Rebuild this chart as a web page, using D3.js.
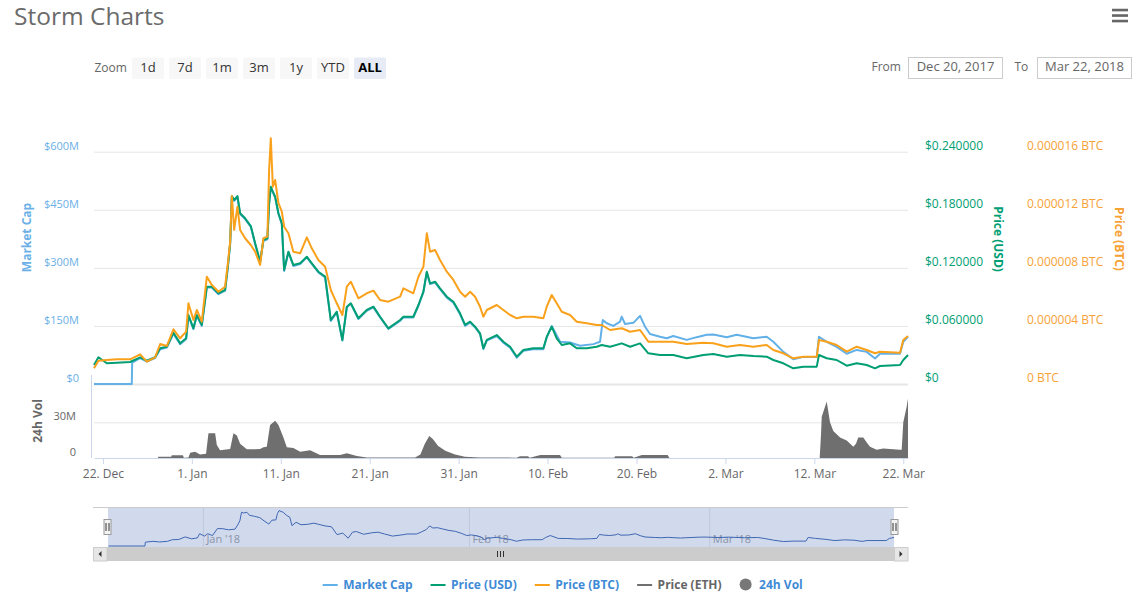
<!DOCTYPE html>
<html>
<head>
<meta charset="utf-8">
<title>Storm Charts</title>
<script src="https://cdn.jsdelivr.net/npm/d3@7"></script>
<style>
  body { margin: 0; background: #fff; }
  svg { display: block; font-family: "Open Sans", sans-serif; }
</style>
</head>
<body>
<svg id="chart" width="1143" height="599"></svg>
<script>
// ---- data: day offsets counted from Dec 21, 2017 00:00 ----
const priceUSD = [
  [0,0.0196],[0.5,0.0276],[1.44,0.0214],[2.57,0.0220],[4.06,0.0227],[5.19,0.0276],[5.94,0.0241],[6.87,0.0276],[7.44,0.0369],[8.19,0.0385],
  [8.93,0.0530],[9.69,0.0420],[10.36,0.0472],[10.62,0.0713],[11.18,0.0575],[11.56,0.0713],[12.12,0.0610],[12.69,0.1005],[13.25,0.1005],[13.99,0.0937],
  [14.74,0.0971],[15.05,0.1212],[15.31,0.1454],[15.50,0.1942],[15.76,0.1901],[16.13,0.1942],[16.43,0.1764],[16.99,0.1712],[17.63,0.1632],[18.12,0.1454],
  [18.68,0.1264],[19.05,0.1488],[19.50,0.1505],[19.69,0.1867],[19.88,0.2038],[20.11,0.1987],[20.37,0.1935],[20.74,0.1764],[21.12,0.1660],[21.38,0.1178],
  [21.86,0.1367],[22.42,0.1229],[23.18,0.1247],[23.93,0.1315],[24.49,0.1247],[25.23,0.1160],[25.99,0.1109],[26.63,0.0661],[27.30,0.0747],[27.93,0.0455],
  [28.43,0.0799],[28.88,0.0834],[29.73,0.0679],[30.67,0.0765],[31.42,0.0799],[32.17,0.0695],[33.10,0.0575],[34.42,0.0661],[34.79,0.0695],[35.91,0.0695],
  [36.48,0.0816],[37.04,0.0954],[37.42,0.1160],[37.79,0.1040],[38.35,0.1057],[38.91,0.0989],[39.67,0.0902],[40.41,0.0850],[41.16,0.0730],[41.73,0.0610],
  [42.29,0.0644],[42.85,0.0592],[43.41,0.0524],[43.78,0.0369],[44.17,0.0455],[45.29,0.0506],[46.03,0.0437],[46.79,0.0385],[47.54,0.0282],[48.28,0.0351],
  [49.40,0.0369],[50.53,0.0369],[50.91,0.0489],[51.47,0.0592],[52.03,0.0472],[52.60,0.0403],[53.53,0.0420],[54.28,0.0369],[55.41,0.0369],[56.53,0.0385],
  [57.09,0.0403],[58.03,0.0385],[59.34,0.0420],[60.28,0.0385],[61.40,0.0420],[62.33,0.0317],[63.65,0.0300],[65.14,0.0300],[66.65,0.0266],[68.52,0.0300],
  [69.64,0.0310],[71.15,0.0282],[72.64,0.0300],[74.14,0.0289],[75.64,0.0282],[76.39,0.0248],[77.51,0.0214],[78.63,0.0162],[79.76,0.0179],[81.27,0.0179],
  [81.52,0.0300],[82.39,0.0266],[83.51,0.0248],[84.64,0.0189],[85.76,0.0214],[86.89,0.0196],[87.82,0.0162],[88.38,0.0186],[90.63,0.0196],[91.00,0.0248],
  [91.53,0.0300]
];

// Price in BTC, in millionths of a bitcoin
const priceBTCmicro = [
  [0,1.081],[0.5,1.605],[1.44,1.653],[2.57,1.701],[4.06,1.701],[5.19,2.046],[5.94,1.536],[6.87,1.839],[7.44,2.755],[8.19,2.617],
  [8.93,3.768],[9.69,3.148],[10.36,3.602],[10.62,5.559],[11.18,4.408],[11.56,5.097],[12.12,4.291],[12.69,7.391],[13.25,6.819],[13.99,6.358],
  [14.74,6.702],[15.05,8.314],[15.31,9.802],[15.50,12.95],[15.76,10.61],[16.13,12.21],[16.43,10.61],[16.99,10.04],[17.63,9.574],[18.12,9.113],
  [18.68,8.197],[19.05,10.04],[19.50,10.15],[19.69,14.74],[19.88,16.92],[20.11,13.59],[20.37,14.05],[20.74,12.45],[21.12,11.87],[21.38,10.83],
  [21.86,10.38],[22.42,9.113],[23.18,9.003],[23.93,10.10],[24.49,9.347],[25.23,8.541],[25.99,8.080],[26.63,6.475],[27.30,5.559],[27.93,4.753],
  [28.43,6.702],[28.88,7.047],[29.73,5.903],[30.67,6.247],[31.42,6.427],[32.17,5.786],[33.10,5.669],[34.42,6.013],[34.79,6.592],[35.91,6.247],
  [36.48,7.391],[37.04,8.080],[37.42,10.38],[37.79,9.113],[38.35,9.230],[38.91,8.541],[39.67,7.735],[40.41,7.164],[41.16,6.358],[41.73,6.013],
  [42.29,6.358],[42.85,6.013],[43.41,5.324],[43.78,4.636],[44.17,5.097],[45.29,5.442],[46.03,5.097],[46.79,4.753],[47.54,4.525],[48.28,4.636],
  [49.40,4.636],[50.53,4.525],[50.91,5.324],[51.47,6.130],[52.03,5.559],[52.60,4.980],[53.53,4.753],[54.28,4.291],[55.41,4.181],[56.53,4.064],
  [57.09,4.064],[58.03,3.720],[59.34,3.837],[60.28,3.602],[61.40,3.720],[62.33,2.914],[63.65,2.914],[65.14,2.914],[66.65,2.755],[68.52,2.845],
  [69.64,2.803],[71.15,2.569],[72.64,2.686],[74.14,2.569],[75.64,2.686],[76.39,2.342],[77.51,2.115],[78.63,1.770],[79.76,1.880],[81.27,1.880],
  [81.52,3.031],[82.39,2.914],[83.51,2.686],[84.64,2.225],[85.76,2.569],[86.89,2.342],[87.82,2.115],[88.38,2.225],[90.63,2.156],[91.00,3.031],
  [91.53,3.306]
];

// Market cap, $ millions
const marketCapM = [
  [0,0],[4.25,0],[4.29,55],[5.19,67],[5.94,58],[6.87,67],[7.44,90],[8.19,94],[8.93,130],[9.69,103],
  [10.36,116],[10.62,176],[11.18,142],[11.56,176],[12.12,150],[12.69,249],[13.25,249],[13.99,232],[14.74,241],[15.05,301],
  [15.31,361],[15.50,483],[15.76,473],[16.13,483],[16.43,439],[16.99,426],[17.63,406],[18.12,361],[18.68,314],[19.05,370],
  [19.50,374],[19.69,465],[19.88,507],[20.11,495],[20.37,482],[20.74,439],[21.12,413],[21.38,292],[21.86,340],[22.42,305],
  [23.18,310],[23.93,327],[24.49,310],[25.23,288],[25.99,275],[26.63,163],[27.30,185],[27.93,112],[28.43,198],[28.88,207],
  [29.73,168],[30.67,189],[31.42,198],[32.17,172],[33.10,142],[34.42,163],[34.79,172],[35.91,172],[36.48,202],[37.04,237],
  [37.42,288],[37.79,258],[38.35,262],[38.91,245],[39.67,223],[40.41,210],[41.16,180],[41.73,150],[42.29,159],[42.85,146],
  [43.41,129],[43.78,90],[44.17,112],[45.29,124],[46.03,107],[46.79,94],[47.54,68],[48.28,86],[49.40,90],[50.53,90],
  [50.91,120],[51.47,150],[52.41,109],[53.53,107],[54.65,99],[56.15,103],[56.90,109],[57.21,165],[57.66,157],[58.40,150],
  [59.15,161],[59.34,174],[59.71,155],[60.65,158],[61.40,176],[61.96,148],[62.52,129],[63.65,122],[64.40,118],[65.14,124],
  [66.65,114],[67.77,121],[68.90,127],[69.64,128],[71.15,121],[72.27,127],[74.14,118],[75.64,122],[76.39,109],[77.51,83],
  [78.63,64],[79.76,70],[81.27,70],[81.52,122],[82.39,109],[83.51,96],[84.64,78],[85.76,88],[86.89,83],[87.82,66],
  [88.38,78],[90.63,78],[91.00,109],[91.53,122]
];

// 24h volume, $ millions
const volumeM = [
  [0,0],[7.2,0],[7.22,1.0],[8.67,1.0],[8.75,2.3],[10.0,2.3],[10.1,0.3],[10.62,0.5],[10.82,4.5],[11.37,5.3],
  [11.93,3.0],[12.6,3.5],[12.87,20.7],[13.62,20.7],[13.81,11.0],[14.18,6.5],[15.31,7.5],[15.68,20.7],[16.06,19.0],[16.43,12.0],
  [17.18,7.3],[18.68,7.5],[19.05,9.0],[19.43,9.5],[19.8,27.7],[20.37,31.4],[20.74,27.7],[21.3,17.3],[21.68,9.0],[22.42,8.5],
  [23.18,5.3],[24.3,6.5],[25.42,2.5],[27.67,2.5],[28.43,4.0],[29.55,1.7],[30.67,0.5],[32.17,0.5],[36.1,0.5],[36.7,3],
  [37.2,12],[37.7,18.5],[38.1,16],[38.7,10],[39.5,6],[40.6,3],[41.7,1],[43.4,0.5],[47.5,0.3],[47.9,1.5],
  [48.8,1.5],[49.0,0.3],[50.2,2.5],[52.4,2.5],[52.6,0.3],[58.5,0.3],[58.6,1.5],[60.5,1.5],[60.7,0.2],[61.6,2.5],
  [64.5,2.5],[64.7,0],[81.6,0],[81.75,20],[81.83,34.7],[82.39,47.4],[82.76,30],[83.13,22.7],[83.51,20],[83.89,17.3],
  [84.64,14.7],[85.38,9.4],[85.68,12],[85.94,17.3],[86.5,17.3],[86.89,13],[87.26,9.4],[88.01,7],[88.75,8],[89.5,7.5],
  [90.63,7],[90.82,7],[91.0,30],[91.38,43],[91.53,50]
];

const capTicks = [0, 150, 300, 450, 600];
const usdTicks = [0, 0.06, 0.12, 0.18, 0.24];
const btcTicks = [0, 4, 8, 12, 16];
const volTicks = [0, 30];
const xTickDates = ["2017-12-22","2018-01-01","2018-01-11","2018-01-21","2018-01-31","2018-02-10","2018-02-20","2018-03-02","2018-03-12","2018-03-22"];
const navTickDates = ["2018-01-01","2018-02-01","2018-03-01"];
const zoomButtons = ["1d","7d","1m","3m","1y","YTD","ALL"];
const rangeFrom = "Dec 20, 2017";
const rangeTo = "Mar 22, 2018";
const legendNames = ["Market Cap","Price (USD)","Price (BTC)","Price (ETH)","24h Vol"];

// ---- colours ----
const C = {
  cap: "#62b0e8", usd: "#009e73", btc: "#f9a11b", eth: "#707070", vol: "#6f6f6f",
  capLabel: "#6bb0e6", btcLabel: "#f7a236", grid: "#e6e6e6", axis: "#ccd6eb",
  legendText: "#3f8bd6"
};
const FONT = "'Open Sans', sans-serif";

const svg = d3.select("#chart");
const parseDay = d3.timeParse("%Y-%m-%d");
const day0 = new Date(2017, 11, 21);
const toDate = d => new Date(day0.getTime() + d * 864e5);
const xEndDay = 91.53;
const plotLeft = 94, plotRight = 908;

const x = d3.scaleTime().domain([toDate(0), toDate(xEndDay)]).range([plotLeft, plotRight]);
const yCap = d3.scaleLinear().domain([0, 600]).range([384, 151.7]);
const yUsd = d3.scaleLinear().domain([0, 0.24]).range([384, 151.7]);
const yBtc = d3.scaleLinear().domain([0, 16]).range([384, 151.7]);
const yVol = d3.scaleLinear().domain([0, 30]).range([458, 422.3]);
const xNav = d3.scaleTime().domain([toDate(0), toDate(xEndDay)]).range([108.5, 894]);
const yNav = d3.scaleLinear().domain([0, 530]).range([546, 509]);

// d3 axes set their own font on the group; restore ours after each call
const axisFont = size => g => g.attr("font-family", FONT).attr("font-size", size);

// ---- header ----
svg.append("text").attr("x", 14).attr("y", 25)
  .attr("font-size", 24.5).attr("fill", "#6b6b6b").text("Storm Charts");

const menu = svg.append("g").attr("fill", "#666");
[10, 15.5, 21].forEach(yy => menu.append("rect").attr("x", 1112).attr("y", yy - 1.25)
  .attr("width", 16).attr("height", 2.6));

svg.append("text").attr("x", 94.5).attr("y", 72).attr("font-size", 12)
  .attr("fill", "#666").text("Zoom");
const btnG = svg.append("g");
zoomButtons.forEach((b, i) => {
  const bx = 132 + i * 37;
  const sel = b === "ALL";
  btnG.append("rect").attr("x", bx).attr("y", 57.5).attr("width", 32).attr("height", 21.5)
    .attr("rx", 2).attr("fill", sel ? "#e6ebf5" : "#f7f7f7");
  btnG.append("text").attr("x", bx + 16).attr("y", 72).attr("text-anchor", "middle")
    .attr("font-size", 13).attr("font-weight", sel ? "bold" : "normal")
    .attr("fill", sel ? "#000" : "#333").text(b);
});

svg.append("text").attr("x", 871.5).attr("y", 71).attr("font-size", 12)
  .attr("fill", "#666").text("From");
svg.append("text").attr("x", 1014.5).attr("y", 71).attr("font-size", 12)
  .attr("fill", "#666").text("To");
[[908.5, rangeFrom], [1037.5, rangeTo]].forEach(([bx, t]) => {
  svg.append("rect").attr("x", bx).attr("y", 57.5).attr("width", 94).attr("height", 21)
    .attr("fill", "#fff").attr("stroke", "#cccccc");
  svg.append("text").attr("x", bx + 47).attr("y", 71).attr("text-anchor", "middle")
    .attr("font-size", 13).attr("fill", "#666").text(t);
});

// ---- main pane gridlines ----
svg.append("g").attr("transform", `translate(${plotLeft},0)`)
  .call(d3.axisLeft(yCap).tickValues(capTicks).tickSize(-(plotRight - plotLeft)).tickFormat(""))
  .call(g => g.select(".domain").remove())
  .call(g => g.selectAll("line").attr("stroke", C.grid).attr("stroke-width", d => d === 0 ? 2 : 1));

// left axis (market cap)
const fmtCap = v => v === 0 ? "$0" : "$" + v + "M";
svg.append("g").attr("transform", "translate(79,0)")
  .call(d3.axisLeft(yCap).tickValues(capTicks).tickSize(0).tickPadding(0).tickFormat(fmtCap))
  .call(axisFont(11))
  .call(g => g.select(".domain").remove())
  .call(g => g.selectAll("text").attr("dy", -2.6).attr("fill", C.capLabel));

// right axis (USD)
const fmtUsd = v => v === 0 ? "$0" : "$" + v.toFixed(6);
svg.append("g").attr("transform", "translate(925,0)")
  .call(d3.axisRight(yUsd).tickValues(usdTicks).tickSize(0).tickPadding(0).tickFormat(fmtUsd))
  .call(axisFont(12))
  .call(g => g.select(".domain").remove())
  .call(g => g.selectAll("text").attr("dy", -2.2).attr("fill", C.usd));

// right axis (BTC)
const fmtBtc = v => v === 0 ? "0 BTC" : (v / 1e6).toFixed(6) + " BTC";
svg.append("g").attr("transform", "translate(1027,0)")
  .call(d3.axisRight(yBtc).tickValues(btcTicks).tickSize(0).tickPadding(0).tickFormat(fmtBtc))
  .call(axisFont(12))
  .call(g => g.select(".domain").remove())
  .call(g => g.selectAll("text").attr("dy", -2.2).attr("fill", C.btcLabel));

// axis titles
function axisTitle(txt, cx, cy, rot, color) {
  svg.append("text").attr("transform", `translate(${cx},${cy}) rotate(${rot})`)
    .attr("text-anchor", "middle").attr("dy", "0.35em")
    .attr("font-size", 12).attr("font-weight", "bold").attr("fill", color).text(txt);
}
axisTitle("Market Cap", 27, 237.5, -90, C.capLabel);
axisTitle("Price (USD)", 998, 239, 90, C.usd);
axisTitle("Price (BTC)", 1119, 239, 90, C.btcLabel);
axisTitle("24h Vol", 38, 421, -90, "#666");

// ---- volume pane ----
svg.append("g").attr("transform", `translate(${plotLeft},0)`)
  .call(d3.axisLeft(yVol).tickValues([30]).tickSize(-(plotRight - plotLeft)).tickFormat(""))
  .call(g => g.select(".domain").remove())
  .call(g => g.selectAll("line").attr("stroke", C.grid));
svg.append("g").attr("transform", "translate(76,0)")
  .call(d3.axisLeft(yVol).tickValues(volTicks).tickSize(0).tickPadding(0).tickFormat(v => v === 0 ? "0" : v + "M"))
  .call(axisFont(11))
  .call(g => g.select(".domain").remove())
  .call(g => g.selectAll("text").attr("dy", -2.4).attr("fill", "#666"));
svg.append("line").attr("x1", 91.5).attr("x2", 91.5).attr("y1", 375).attr("y2", 458)
  .attr("stroke", C.axis);

const volArea = d3.area().x(d => x(toDate(d[0]))).y0(yVol(0)).y1(d => yVol(d[1]));
svg.append("path").datum(volumeM).attr("d", volArea).attr("fill", C.vol);

// ---- x axis ----
svg.append("g").attr("transform", "translate(0,458)")
  .call(d3.axisBottom(x).tickValues(xTickDates.map(parseDay))
    .tickFormat(d3.timeFormat("%-d. %b")).tickSizeInner(6).tickSizeOuter(0).tickPadding(5))
  .call(axisFont(12))
  .call(g => g.select(".domain").attr("stroke", C.axis))
  .call(g => g.selectAll(".tick line").attr("stroke", C.axis))
  .call(g => g.selectAll("text").attr("fill", "#666"));

// ---- price lines ----
const lineCap = d3.line().x(d => x(toDate(d[0]))).y(d => yCap(d[1]));
const lineUsd = d3.line().x(d => x(toDate(d[0]))).y(d => yUsd(d[1]));
const lineBtc = d3.line().x(d => x(toDate(d[0]))).y(d => yBtc(d[1]));
const lines = svg.append("g").attr("fill", "none").attr("stroke-linejoin", "round");
lines.append("path").datum(marketCapM).attr("d", lineCap).attr("stroke", C.cap).attr("stroke-width", 2);
lines.append("path").datum(priceUSD).attr("d", lineUsd).attr("stroke", C.usd).attr("stroke-width", 2);
lines.append("path").datum(priceBTCmicro).attr("d", lineBtc).attr("stroke", C.btc).attr("stroke-width", 2);

// ---- navigator ----
const nav = svg.append("g");
nav.append("g").attr("transform", "translate(0,507)")
  .call(d3.axisBottom(xNav).tickValues(navTickDates.map(parseDay))
    .tickFormat(d3.timeFormat("%b '%y")).tickSizeInner(40).tickSizeOuter(0))
  .call(axisFont(11))
  .call(g => g.select(".domain").remove())
  .call(g => g.selectAll(".tick line").attr("stroke", "#e6e6e6"))
  .call(g => g.selectAll("text").attr("text-anchor", "start").attr("x", 3).attr("y", 35.5)
    .attr("dy", 0).attr("fill", "#999"));
nav.append("rect").attr("x", 108).attr("y", 507).attr("width", 894 - 108).attr("height", 40)
  .attr("fill", "rgba(102,133,194,0.3)");
nav.append("line").attr("x1", 93).attr("x2", 908).attr("y1", 507.5).attr("y2", 507.5)
  .attr("stroke", "#cccccc");
const navLine = d3.line().x(d => xNav(toDate(d[0]))).y(d => yNav(d[1]));
nav.append("path").datum(marketCapM).attr("d", navLine).attr("fill", "none")
  .attr("stroke", "#3f66b3").attr("stroke-width", 1);

// scrollbar
nav.append("rect").attr("x", 93).attr("y", 547).attr("width", 815).attr("height", 14).attr("fill", "#f2f2f2");
nav.append("rect").attr("x", 107).attr("y", 547).attr("width", 787).attr("height", 14).attr("fill", "#cccccc");
[[93, -1], [894, 1]].forEach(([bx, dir]) => {
  nav.append("rect").attr("x", bx + 0.5).attr("y", 547.5).attr("width", 13.5).attr("height", 13.5)
    .attr("fill", "#e6e6e6").attr("stroke", "#cccccc");
  const cx = bx + 7, cy = 554;
  nav.append("path").attr("d", `M${cx - 1.5 * dir},${cy - 3}L${cx - 1.5 * dir},${cy + 3}L${cx + 1.5 * dir},${cy}Z`)
    .attr("fill", "#333");
});
[-3, 0, 3].forEach(o => nav.append("line").attr("x1", 500.5 + o).attr("x2", 500.5 + o)
  .attr("y1", 551).attr("y2", 557).attr("stroke", "#333"));

// handles
[107.5, 894.5].forEach(hx => {
  nav.append("rect").attr("x", hx - 3.5).attr("y", 519.5).attr("width", 7).attr("height", 15)
    .attr("fill", "#f2f2f2").attr("stroke", "#999");
  [-1.5, 1.5].forEach(o => nav.append("line").attr("x1", hx + o).attr("x2", hx + o)
    .attr("y1", 523).attr("y2", 531).attr("stroke", "#333"));
});

// ---- legend ----
const legend = svg.append("g").attr("font-size", 12).attr("font-weight", "bold");
const legendColors = [C.cap, C.usd, C.btc, C.eth, "#777"];
let lx = 322.7;
legendNames.forEach((name, i) => {
  const isVol = i === 4;
  if (isVol) {
    legend.append("circle").attr("cx", lx + 6).attr("cy", 584.5).attr("r", 6).attr("fill", legendColors[i]);
  } else {
    legend.append("line").attr("x1", lx).attr("x2", lx + 15).attr("y1", 585).attr("y2", 585)
      .attr("stroke", legendColors[i]).attr("stroke-width", 2);
  }
  const tx = lx + (isVol ? 19.5 : 20.5);
  const t = legend.append("text").attr("x", tx).attr("y", 589)
    .attr("fill", i === 3 ? "#666" : C.legendText).text(name);
  lx = tx + t.node().getComputedTextLength() + 18;
});
</script>
</body>
</html>
